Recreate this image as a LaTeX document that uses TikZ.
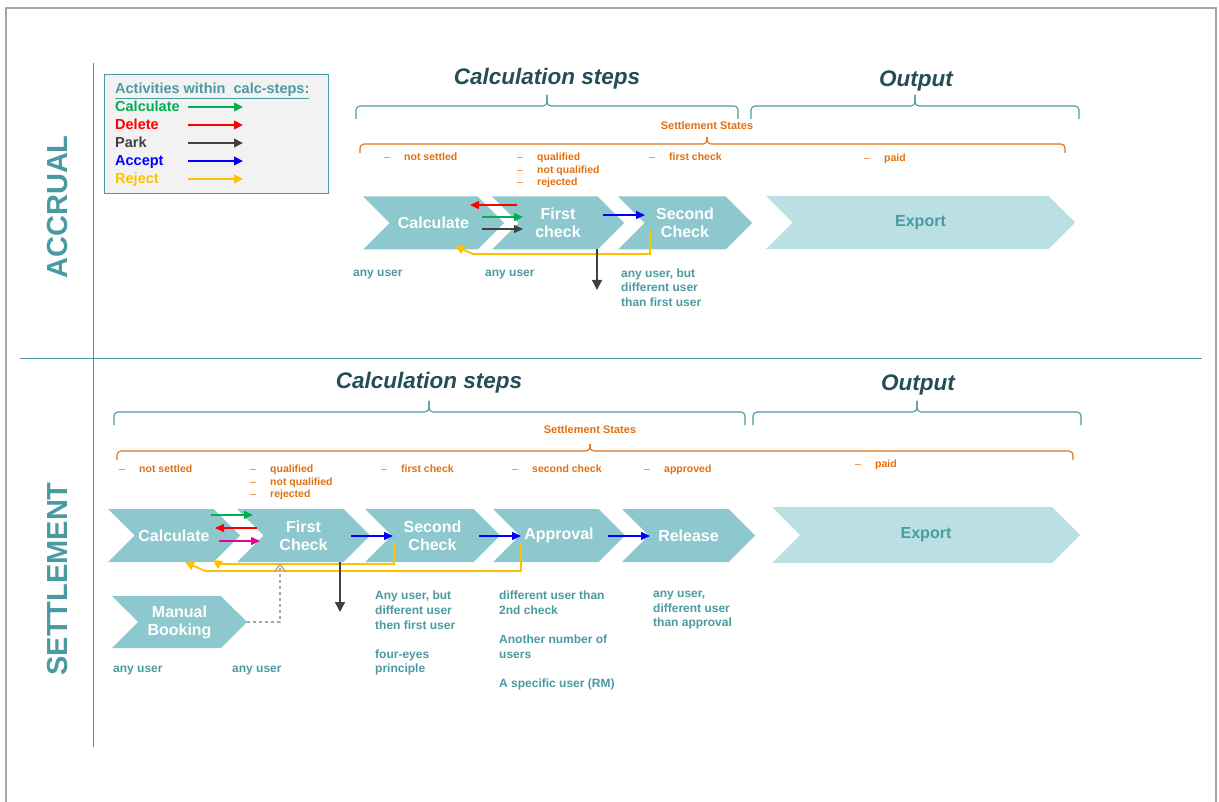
\documentclass[tikz,border=0pt]{standalone}
\usepackage{fontspec}
\setmainfont{Liberation Sans}
\usetikzlibrary{shapes.symbols,arrows.meta,calc}

\definecolor{chevfill}{HTML}{8DC8CE}
\definecolor{expfill}{HTML}{BBE0E4}
\definecolor{tealtxt}{HTML}{4A9AA1}
\definecolor{headtxt}{HTML}{244E54}
\definecolor{stateor}{HTML}{E2700F}
\definecolor{rejyel}{HTML}{FFC000}
\definecolor{parkgrey}{HTML}{404040}
\definecolor{calcgreen}{HTML}{00B050}
\definecolor{framegrey}{HTML}{A6A6A6}
\definecolor{legfill}{HTML}{F2F2F2}

\newcommand\stdash{\makebox[20pt][l]{\mdseries\textendash}}

\tikzset{
  chev/.style={signal, signal to=east, signal from=west, fill=chevfill, draw=none,
    minimum height=53pt, inner sep=0pt, text=white, align=center,
    font=\fontsize{16}{18}\selectfont\bfseries},
  expchev/.style={chev, fill=expfill, text=tealtxt},
  note/.style={anchor=north west, inner sep=0pt, text=tealtxt, align=left,
    font=\fontsize{12}{14.6}\selectfont\bfseries, execute at begin node=\vphantom{A}},
  state/.style={anchor=north west, inner sep=0pt, text=stateor, align=left,
    font=\fontsize{10.5}{12.5}\selectfont\bfseries, execute at begin node=\vphantom{l}},
  heading/.style={text=headtxt, inner sep=0pt, font=\fontsize{22.5}{26}\selectfont\bfseries\itshape},
  sttitle/.style={text=stateor, inner sep=0pt, font=\fontsize{11}{13}\selectfont\bfseries},
  sect/.style={rotate=90, text=tealtxt, inner sep=0pt, font=\fontsize{29}{32}\selectfont\bfseries},
  legtxt/.style={inner sep=0pt, font=\fontsize{14.5}{17}\selectfont\bfseries},
  act/.style={-{Triangle[length=9pt,width=8pt]}, line width=1.5pt},
  legarr/.style={-{Triangle[length=9pt,width=8.5pt]}, line width=2.4pt},
  reject/.style={-{Triangle[length=9pt,width=9pt]}, rejyel, line width=1.8pt},
  downarr/.style={-{Triangle[length=10pt,width=10pt]}, line width=1.4pt, parkgrey},
  manarr/.style={-{Straight Barb[length=7pt,width=11pt]}, dashed, framegrey, line width=1.3pt},
  brteal/.style={draw=tealtxt, line width=1.1pt, rounded corners=4pt},
  brorange/.style={draw=stateor, line width=1.1pt, rounded corners=4pt},
}

\begin{document}
\begin{tikzpicture}[x=1pt,y=-1pt]
\useasboundingbox (0,0) rectangle (1219,802);

% frame and section lines
\draw[framegrey, line width=2pt] (6,802) -- (6,8) -- (1216,8) -- (1216,802);
\draw[tealtxt, line width=0.8pt] (93,63) -- (93,747);
\draw[tealtxt, line width=0.8pt] (20,358) -- (1202,358);
\node[sect] (accr) at (58,207) {ACCRUAL};
\node[sect] (settl) at (58,579) {SETTLEMENT};

% legend
\node[draw=tealtxt, fill=legfill, line width=1pt, minimum width=224pt, minimum height=119pt,
  anchor=north west, inner sep=0pt] (legend) at (104,74) {};
\node[legtxt, text=tealtxt, anchor=base west] (legtitle) at (115,94) {\underline{Activities within\ \ calc-steps:}};
\foreach \lbl/\col/\yy in {Calculate/calcgreen/112, Delete/red/130, Park/parkgrey/148, Accept/blue/166, Reject/rejyel/184} {
  \node[legtxt, text=\col, anchor=base west] (leg\lbl) at (115,\yy) {\lbl};
  \draw[legarr, \col] ($(leg\lbl.base west)+(73,-5)$) -- ++(55,0);
}

% braces
\foreach \xa/\xm/\xb/\yy in {356/547/738/106, 751/915/1079/106, 114/429/745/412, 753/917/1081/412} {
  \draw[brteal] (\xa,\yy+13) -- (\xa,\yy) -- (\xm,\yy) -- (\xm,\yy-11);
  \draw[brteal] (\xb,\yy+13) -- (\xb,\yy) -- (\xm,\yy) -- (\xm,\yy-11);
}
\foreach \xa/\xm/\xb/\yy in {360/707/1065/144, 117/590/1073/451} {
  \draw[brorange] (\xa,\yy+9) -- (\xa,\yy) -- (\xm,\yy) -- (\xm,\yy-7);
  \draw[brorange] (\xb,\yy+9) -- (\xb,\yy) -- (\xm,\yy) -- (\xm,\yy-7);
}

% ---- accrual ----
\node[heading] (stepsA) at (547,79) {Calculation steps};
\node[heading] (outA) at (916,81) {Output};
\node[sttitle] (statesA) at (707,126) {Settlement States};
\node[state] (s1A) at (384,153) {\stdash not settled};
\node[state] (s2A) at (517,153) {\stdash qualified\\\stdash not qualified\\\stdash rejected};
\node[state] (s3A) at (649,153) {\stdash first check};
\node[state] (s4A) at (864,154) {\stdash paid};

\node[chev, minimum width=141pt] (calcA) at (433.5,223) {Calculate};
\node[chev, minimum width=132pt] (fcA) at (558,223) {First\\check};
\node[chev, minimum width=134pt] (scA) at (685,223) {Second\\Check};
\node[expchev, minimum width=309pt] (expA) at (920.5,222.5) {Export};

\node[note] (uA1) at (353,268.5) {any user};
\node[note] (uA2) at (485,268.5) {any user};
\node[note] (uA3) at (621,268.5) {any user, but\\different user\\than first user};

\draw[act, red] ($(fcA)+(-41,-18)$) -- ($(calcA)+(36.5,-18)$);
\draw[act, calcgreen] ($(calcA)+(48.5,-6)$) -- ($(fcA)+(-35,-6)$);
\draw[act, parkgrey] ($(calcA)+(48.5,6)$) -- ($(fcA)+(-35,6)$);
\draw[act, blue] ($(fcA)+(45,-8)$) -- ($(scA)+(-40,-8)$);
\draw[reject] ($(scA)+(-35,7)$) -- ($(scA)+(-35,31)$) -- ($(calcA)+(39.5,31)$) -- ($(calcA)+(21.5,23)$);
\draw[downarr] ($(fcA)+(39,26)$) -- ++(0,41);

% ---- settlement ----
\node[heading] (stepsS) at (429,383) {Calculation steps};
\node[heading] (outS) at (918,385) {Output};
\node[sttitle] (statesS) at (590,430) {Settlement States};
\node[state] (s1S) at (119,465) {\stdash not settled};
\node[state] (s2S) at (250,465) {\stdash qualified\\\stdash not qualified\\\stdash rejected};
\node[state] (s3S) at (381,465) {\stdash first check};
\node[state] (s4S) at (512,465) {\stdash second check};
\node[state] (s5S) at (644,465) {\stdash approved};
\node[state] (s6S) at (855,460) {\stdash paid};

\node[chev, minimum width=132pt] (calcS) at (174,535.5) {Calculate};
\node[chev, minimum width=133pt] (fcS) at (303.5,535.5) {First\\Check};
\node[chev, minimum width=135pt] (scS) at (432.5,535.5) {Second\\Check};
\node[chev, minimum width=132pt] (apS) at (559,535.5) {Approval};
\node[chev, minimum width=133pt] (relS) at (688.5,535.5) {Release};
\node[expchev, minimum width=308pt, minimum height=56pt] (expS) at (926,535) {Export};
\node[chev, minimum width=135pt, minimum height=52pt] (manS) at (179.5,622) {Manual\\Booking};

\node[note] (uS1) at (113,664.5) {any user};
\node[note] (uS2) at (232,664.5) {any user};
\node[note] (uS3) at (375,591) {Any user, but\\different user\\then first user\\[14.6pt]four-eyes\\principle};
\node[note] (uS4) at (499,591) {different user than\\2nd check\\[14.6pt]Another number of\\users\\[14.6pt]A specific user (RM)};
\node[note] (uS5) at (653,591) {any user,\\different user\\than approval};

\draw[act, calcgreen] ($(calcS)+(37,-20.5)$) -- ($(fcS)+(-50.5,-20.5)$);
\draw[act, red] ($(fcS)+(-46.5,-7.5)$) -- ($(calcS)+(41,-7.5)$);
\draw[act, magenta] ($(calcS)+(45,5.5)$) -- ($(fcS)+(-43.5,5.5)$);
\draw[act, blue] ($(fcS)+(47.5,0.5)$) -- ($(scS)+(-39.5,0.5)$);
\draw[act, blue] ($(scS)+(46.5,0.5)$) -- ($(apS)+(-38,0.5)$);
\draw[act, blue] ($(apS)+(49,0.5)$) -- ($(relS)+(-38.5,0.5)$);
\draw[reject] ($(scS)+(-38.5,7.5)$) -- ($(scS)+(-38.5,28.5)$) -- ($(calcS)+(45,28.5)$) -- ($(calcS)+(39,24.5)$);
\draw[reject] ($(apS)+(-38,7.5)$) -- ($(apS)+(-38,35.5)$) -- ($(calcS)+(31,35.5)$) -- ($(calcS)+(11,26.5)$);
\draw[downarr] ($(fcS)+(36.5,26.5)$) -- ++(0,50);
\draw[manarr] (manS.east) -| ($(fcS)+(-23.5,28)$);
\end{tikzpicture}
\end{document}
